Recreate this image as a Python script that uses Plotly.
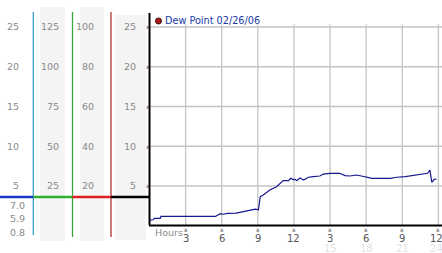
import plotly.graph_objects as go

W, H = 442, 253

# Dew point series (hours since start, °C)
hours = [0.0, 0.3, 0.4, 0.9, 0.95, 2.6, 2.7, 3.0, 5.5, 5.6, 5.9, 6.1, 6.5, 7.2, 8.0, 8.5, 8.8, 9.05,
         9.2, 9.45, 10.0, 10.56, 11.1, 11.55, 11.73, 11.95, 12.1, 12.25, 12.4, 12.5, 12.8, 13.2, 13.6,
         14.15, 14.45, 15.0, 15.8, 16.25, 16.65, 17.2, 17.6, 18.5, 20.0, 20.55, 21.25, 21.9, 22.6,
         23.1, 23.3, 23.45, 23.65, 23.85]
dew_point = [0.72, 0.75, 0.94, 0.94, 1.19, 1.19, 1.26, 1.22, 1.19, 1.3, 1.52, 1.45, 1.55, 1.6, 1.8, 2.0, 2.1, 2.0,
             3.66, 3.87, 4.5, 4.9, 5.67, 5.67, 5.97, 5.8, 5.84, 5.67, 5.88, 6.0, 5.75, 6.1, 6.17,
             6.26, 6.5, 6.6, 6.6, 6.3, 6.26, 6.38, 6.26, 5.97, 5.97, 6.1, 6.17, 6.34, 6.47,
             6.6, 7.0, 5.47, 5.84, 5.88]

series_name = "Dew Point 02/26/06"

x_ticks = [3, 6, 9, 12, 15, 18, 21, 24]
x_tick_labels = ["3", "6", "9", "12", "3", "6", "9", "12"]
x_faint_ticks = [15, 18, 21, 24]
x_faint_labels = ["15", "18", "21", "24"]
y_ticks = [5, 10, 15, 20, 25]

# side scale columns (listed bottom to top, matching y_ticks)
col1_labels = ["5", "10", "15", "20", "25"]
col2_labels = ["25", "50", "75", "100", "125"]
col3_labels = ["20", "40", "60", "80", "100"]
col4_labels = ["5", "10", "15", "20", "25"]
col1_extra = ["7.0", "5.9", "0.8"]

YMAX = 26.76
XMAX = 24.3
dom_x0 = 149.5 / W
dom_y0 = 1 - 225.75 / H
dom_y1 = 1 - 13 / H


def px(x):
    return x / W


def py(y):
    return 1 - y / H


def yv(v):
    # value -> pixel y
    return 225.75 - (v / YMAX) * (225.75 - 13)


fig = go.Figure()
fig.add_trace(go.Scatter(x=hours, y=dew_point, mode="lines",
                         line=dict(color="#16168e", width=1.2), name=series_name,
                         showlegend=False, hoverinfo="skip"))

shapes = []
ann = []
font = "DejaVu Sans"
grey = "#8a8a8a"

# grey column backgrounds
for x0, x1, y0, y1 in [(40, 65, 7, 241), (80, 104, 7, 241), (115, 146, 15, 240)]:
    shapes.append(dict(type="rect", xref="paper", yref="paper", x0=px(x0), x1=px(x1),
                       y0=py(y1), y1=py(y0), fillcolor="#f4f4f4", line=dict(width=0), layer="below"))

# gridlines
for t in x_ticks:
    shapes.append(dict(type="line", xref="x", yref="y", x0=t, x1=t, y0=0, y1=25.3,
                       line=dict(color="#c4c4c4", width=1.3), layer="below"))
for t in y_ticks:
    shapes.append(dict(type="line", xref="paper", yref="y", x0=dom_x0, x1=1, y0=t, y1=t,
                       line=dict(color="#c4c4c4", width=1.3), layer="below"))

# coloured vertical scale lines
for xx, c, y1 in [(33.3, "#3a9fcc", 235), (72.5, "#3aa63a", 237), (111, "#b03232", 237)]:
    shapes.append(dict(type="line", xref="paper", yref="paper", x0=px(xx), x1=px(xx),
                       y0=py(y1), y1=py(12), line=dict(color=c, width=1.3)))

# current-value indicator line
ind = 197
for x0, x1, c in [(0, 33.3, "#1838c8"), (33.3, 72.5, "#30b030"), (72.5, 111, "#e02020"), (111, 149.5, "#000000")]:
    shapes.append(dict(type="line", xref="paper", yref="paper", x0=px(x0), x1=px(x1),
                       y0=py(ind), y1=py(ind), line=dict(color=c, width=2.5)))

# axes lines
shapes.append(dict(type="line", xref="paper", yref="paper", x0=px(149.5), x1=px(149.5),
                   y0=py(225), y1=py(13), line=dict(color="black", width=2)))
shapes.append(dict(type="line", xref="paper", yref="paper", x0=px(149), x1=1,
                   y0=py(225.5), y1=py(225.5), line=dict(color="black", width=2)))

# side column labels
for labels, xr in [(col1_labels, 20.5), (col2_labels, 60.5), (col3_labels, 95.5), (col4_labels, 137.5)]:
    for lab, t in zip(labels, y_ticks):
        ann.append(dict(x=px(xr), y=py(yv(t)), xref="paper", yref="paper", text=lab,
                        showarrow=False, xanchor="right", yanchor="middle",
                        font=dict(family=font, size=9.5, color=grey)))
for lab, yy in zip(col1_extra, [205, 218, 232]):
    ann.append(dict(x=px(27), y=py(yy), xref="paper", yref="paper", text=lab,
                    showarrow=False, xanchor="right", yanchor="middle",
                    font=dict(family=font, size=9.5, color=grey)))

# small tick glyphs on y axis
for t in y_ticks:
    ann.append(dict(x=px(147.8), y=py(yv(t)), xref="paper", yref="paper", text="x",
                    showarrow=False, xanchor="center", yanchor="middle",
                    font=dict(family=font, size=6, color="#333")))

# x tick labels and glyphs
for t, lab in zip(x_ticks, x_tick_labels):
    shift = -2 if t == x_ticks[-1] else 0
    ann.append(dict(x=t, y=py(229.5), xref="x", yref="paper", text="x", showarrow=False,
                    xanchor="center", yanchor="middle", font=dict(family=font, size=6, color="#333")))
    ann.append(dict(x=t, y=py(238.5), xref="x", yref="paper", text=lab, showarrow=False, xshift=shift,
                    xanchor="center", yanchor="middle", font=dict(family=font, size=10, color="#555")))
for t, lab in zip(x_faint_ticks, x_faint_labels):
    shift = -2 if t == x_faint_ticks[-1] else 0
    ann.append(dict(x=t, y=py(248.5), xref="x", yref="paper", text=lab, showarrow=False, xshift=shift,
                    xanchor="center", yanchor="middle", font=dict(family=font, size=10, color="#e2e2e2")))

ann.append(dict(x=px(153), y=py(232), xref="paper", yref="paper", text="Hours", showarrow=False,
                xanchor="left", yanchor="middle", font=dict(family=font, size=9.5, color=grey)))

# legend
shapes.append(dict(type="circle", xref="paper", yref="paper", x0=px(155.5), x1=px(161.5),
                   y0=py(24), y1=py(18), fillcolor="#b01818", line=dict(color="#401010", width=1)))
ann.append(dict(x=px(163), y=py(20.5), xref="paper", yref="paper", text=series_name, showarrow=False,
                xanchor="left", yanchor="middle", font=dict(family=font, size=9.7, color="#1a3aa8")))

fig.update_layout(
    width=W, height=H, margin=dict(l=0, r=0, t=0, b=0),
    paper_bgcolor="white", plot_bgcolor="white",
    showlegend=False,
    xaxis=dict(domain=[dom_x0, 1], range=[0, XMAX], showgrid=False, zeroline=False,
               showticklabels=False, ticks="", showline=False, fixedrange=True),
    yaxis=dict(domain=[dom_y0, dom_y1], range=[0, YMAX], showgrid=False, zeroline=False,
               showticklabels=False, ticks="", showline=False, fixedrange=True),
    shapes=shapes, annotations=ann,
)

fig.write_html("out.html")
